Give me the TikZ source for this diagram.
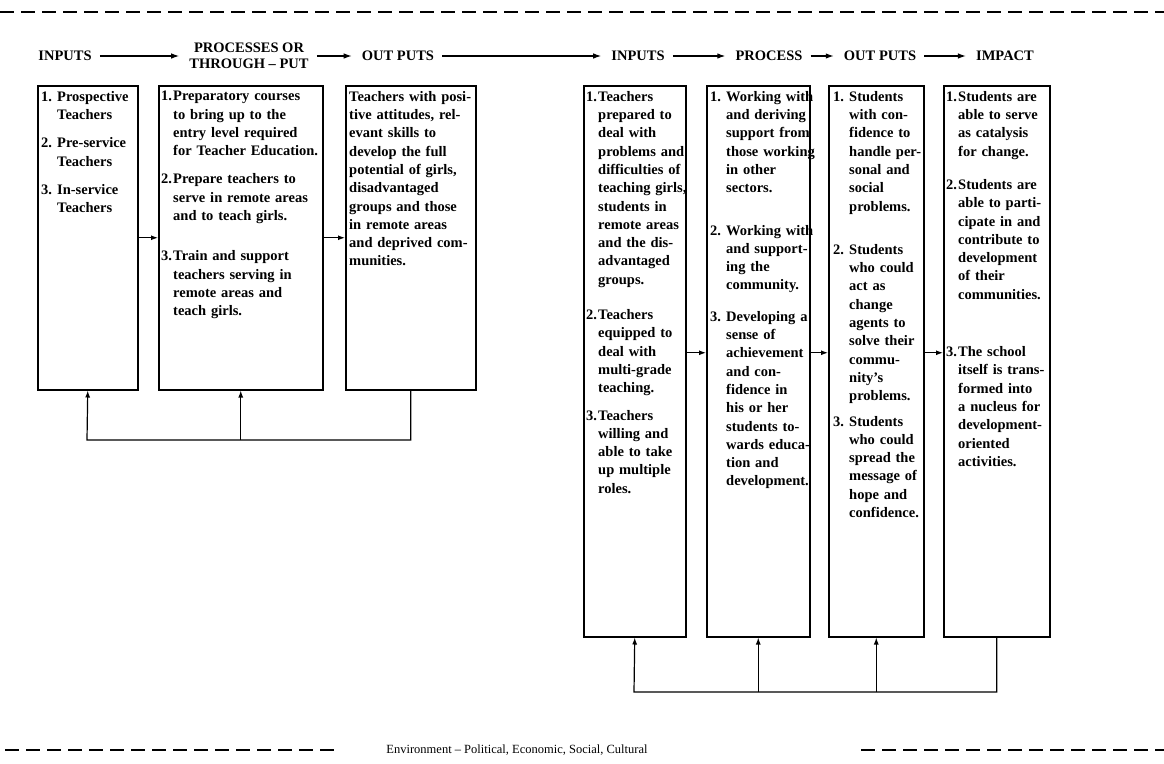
\documentclass[tikz,border=0pt]{standalone}
\usepackage{fontspec}
\setmainfont{Liberation Serif}
\usepackage{tikz}
\usetikzlibrary{arrows.meta,positioning}

\newcommand{\numitem}[3][12pt]{{\let\\\newline\hangindent=#1\hangafter=1\noindent\makebox[#1][l]{#2}#3\par}}

\begin{document}
\begin{tikzpicture}[x=1pt,y=-1pt,
  rule/.style={line width=1.6pt,dash pattern=on 14pt off 7pt},
  head/.style={font=\bfseries\fontsize{14.5pt}{16pt}\selectfont,align=center,inner sep=4pt},
  harr/.style={-{Latex[length=8pt,width=5.5pt]},line width=1.2pt,shorten >=6pt,shorten <=4pt},
  box/.style={draw,line width=1.5pt,anchor=north west,inner sep=0pt},
  txt/.style={inner sep=0pt,anchor=north west,text width=180pt,font=\bfseries\fontsize{14.5pt}{18.3pt}\selectfont},
  arr/.style={-{Latex[length=7pt,width=5pt]},line width=1.2pt}]

\useasboundingbox (0,0) rectangle (1164,763);

\coordinate (topL) at (0,12);
\coordinate (topR) at (1164,12);
\draw[rule] (topL) -- (topR);

\node[head] (in1) at (65,56) {INPUTS};
\node[head] (proc1) at (249,56) {PROCESSES OR\\THROUGH -- PUT};
\node[head] (out1) at (398,56) {OUT PUTS};
\node[head] (in2) at (638,56) {INPUTS};
\node[head] (proc2) at (769,56) {PROCESS};
\node[head] (out2) at (880,56) {OUT PUTS};
\node[head] (imp) at (1005,56) {IMPACT};

\foreach \a/\b in {in1/proc1,proc1/out1,out1/in2,in2/proc2,proc2/out2,out2/imp}{\draw[harr] (\a) -- (\b);}

\node[box,minimum width=100pt,minimum height=304pt] (b1) at (37,85) {};
\node[box,minimum width=164pt,minimum height=304pt] (b2) at (158,85) {};
\node[box,minimum width=130pt,minimum height=304pt] (b3) at (345,85) {};
\node[box,minimum width=102pt,minimum height=551pt] (b4) at (583,85) {};
\node[box,minimum width=103pt,minimum height=551pt] (b5) at (706,85) {};
\node[box,minimum width=95pt,minimum height=551pt] (b6) at (828,85) {};
\node[box,minimum width=106pt,minimum height=551pt] (b7) at (943,85) {};

\node[txt,below right=6pt and 4pt of b1.north west] (t1) {%
  \numitem[16pt]{1.}{Prospective\\Teachers}\vspace{10pt}
  \numitem[16pt]{2.}{Pre-service\\Teachers}\vspace{10pt}
  \numitem[16pt]{3.}{In-service\\Teachers}};
\node[txt,below right=6pt and 3pt of b2.north west] (t2) {%
  \numitem{1.}{Preparatory courses\\to bring up to the\\entry level required\\for Teacher Education.}\vspace{10pt}
  \numitem{2.}{Prepare teachers to\\serve in remote areas\\and to teach girls.}\vspace{22pt}
  \numitem{3.}{Train and support\\teachers serving in\\remote areas and\\teach girls.}};
\node[txt,below right=6pt and 4pt of b3.north west] (t3) {%
  Teachers with posi-\\tive attitudes, rel-\\evant skills to\\develop the full\\potential of girls,\\disadvantaged\\groups and those\\in remote areas\\and deprived com-\\munities.};
\node[txt,below right=6pt and 3pt of b4.north west] (t4) {%
  \numitem{1.}{Teachers\\prepared to\\deal with\\problems and\\difficulties of\\teaching girls,\\students in\\remote areas\\and the dis-\\advantaged\\groups.}\vspace{17pt}
  \numitem{2.}{Teachers\\equipped to\\deal with\\multi-grade\\teaching.}\vspace{9pt}
  \numitem{3.}{Teachers\\willing and\\able to take\\up multiple\\roles.}};
\node[txt,below right=6pt and 4pt of b5.north west] (t5) {%
  \numitem[16pt]{1.}{Working with\\and deriving\\support from\\those working\\in other\\sectors.}\vspace{24pt}
  \numitem[16pt]{2.}{Working with\\and support-\\ing the\\community.}\vspace{13pt}
  \numitem[16pt]{3.}{Developing a\\sense of\\achievement\\and con-\\fidence in\\his or her\\students to-\\wards educa-\\tion and\\development.}};
\node[txt,below right=6pt and 5pt of b6.north west] (t6) {%
  \numitem[16pt]{1.}{Students\\with con-\\fidence to\\handle per-\\sonal and\\social\\problems.}\vspace{25pt}
  \numitem[16pt]{2.}{Students\\who could\\act as\\change\\agents to\\solve their\\commu-\\nity's\\problems.}\vspace{7pt}
  \numitem[16pt]{3.}{Students\\who could\\spread the\\message of\\hope and\\confidence.}};
\node[txt,below right=6pt and 3pt of b7.north west] (t7) {%
  \numitem{1.}{Students are\\able to serve\\as catalysis\\for change.}\vspace{15pt}
  \numitem{2.}{Students are\\able to parti-\\cipate in and\\contribute to\\development\\of their\\communities.}\vspace{39pt}
  \numitem{3.}{The school\\itself is trans-\\formed into\\a nucleus for\\development-\\oriented\\activities.}};

\draw[arr] (b1.east) -- (b2.west);
\draw[arr] (b2.east) -- (b3.west);
\foreach \a/\b in {b4/b5,b5/b6,b6/b7}{\draw[arr] ([yshift=8.5pt]\a.east) -- ([yshift=8.5pt]\b.west);}

\coordinate (loopL) at (87,440);
\draw[arr] (b3.south) |- (loopL) -- (b1.south);
\draw[arr] (b2.south |- loopL) -- (b2.south);

\coordinate (loopR) at (634,692);
\draw[arr] (b7.south) |- (loopR) -- (b4.south);
\foreach \b in {b5,b6}{\draw[arr] (\b.south |- loopR) -- (\b.south);}

\node[font=\fontsize{12.5pt}{14pt}\selectfont] (env) at (517,750) {Environment -- Political, Economic, Social, Cultural};
\coordinate (botL1) at (5,750);
\coordinate (botL2) at (341,750);
\coordinate (botR1) at (861,750);
\coordinate (botR2) at (1164,750);
\draw[rule] (botL1) -- (botL2);
\draw[rule] (botR1) -- (botR2);

\end{tikzpicture}
\end{document}
